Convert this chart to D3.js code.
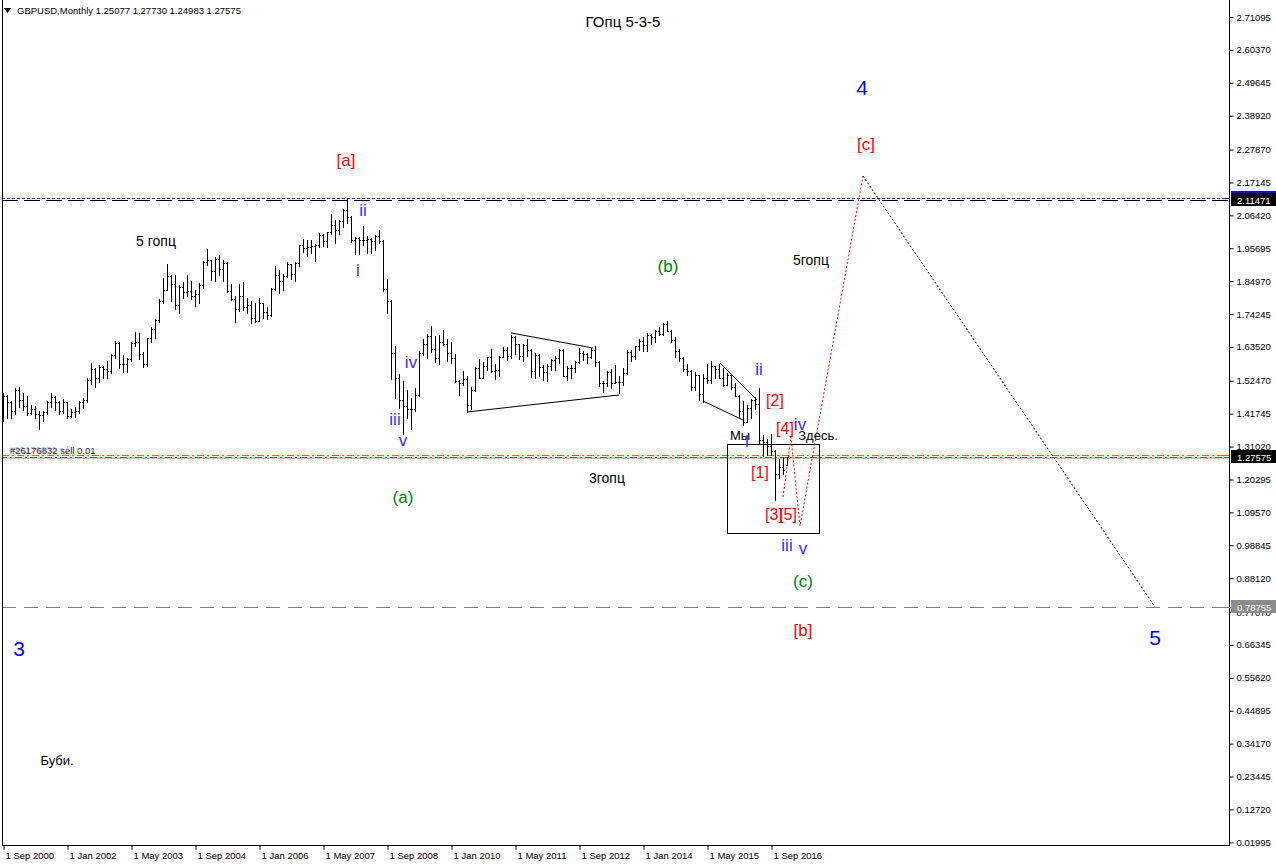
<!DOCTYPE html>
<html><head><meta charset="utf-8">
<script src="https://cdn.jsdelivr.net/npm/d3@7"></script>
<style>
html,body{margin:0;padding:0;background:#fff;}
svg{display:block;}
text{font-family:"Liberation Sans",Arial,sans-serif;}
</style></head><body>
<svg id="c" width="1276" height="866"></svg>
<script>
// ---- DATA ----
const symbolTitle = "GBPUSD,Monthly  1.25077 1.27730 1.24983 1.27575";
const chartTitle = "ГОпц 5-3-5";
// monthly bars, first bar = Sep 2000, last = Jan 2017
const opens = [
 1.445,1.475,1.455,1.425,
 1.494,1.462,1.444,1.420,1.432,1.417,1.412,1.423,1.455,1.471,1.455,1.425,
 1.455,1.410,1.422,1.425,1.457,1.461,1.528,1.563,1.535,1.569,1.563,1.557,
 1.610,1.648,1.579,1.579,1.596,1.649,1.652,1.612,1.580,1.663,1.695,1.722,
 1.785,1.822,1.867,1.840,1.773,1.832,1.813,1.817,1.800,1.809,1.837,1.912,
 1.920,1.883,1.922,1.888,1.908,1.817,1.792,1.760,1.800,1.764,1.772,1.728,
 1.720,1.780,1.748,1.739,1.825,1.871,1.850,1.868,1.904,1.872,1.909,1.966,
 1.958,1.962,1.965,1.967,2.000,1.980,2.009,2.032,2.015,2.045,2.082,2.058,
 1.985,1.989,1.985,1.985,1.987,1.979,1.997,1.981,1.823,1.785,1.617,1.535,
 1.462,1.444,1.432,1.433,1.479,1.615,1.644,1.670,1.628,1.598,1.650,1.646,
 1.615,1.598,1.523,1.518,1.530,1.445,1.495,1.568,1.535,1.572,1.602,1.558,
 1.561,1.602,1.626,1.605,1.669,1.645,1.606,1.642,1.625,1.558,1.609,1.570,
 1.554,1.572,1.593,1.600,1.624,1.541,1.567,1.568,1.587,1.615,1.613,1.602,
 1.625,1.586,1.518,1.519,1.553,1.519,1.521,1.521,1.549,1.619,1.604,1.637,
 1.656,1.643,1.675,1.667,1.688,1.676,1.711,1.688,1.659,1.621,1.600,1.564,
 1.558,1.505,1.543,1.482,1.535,1.528,1.572,1.562,1.535,1.512,1.543,1.506,
 1.474,1.425,1.392,1.437,1.461,1.449,1.331,1.324,1.313,1.297,1.220,1.245,
 1.25077];
const highs = [
 1.485,1.480,1.460,1.500,
 1.505,1.485,1.475,1.446,1.442,1.425,1.427,1.460,1.485,1.475,1.460,1.465,
 1.455,1.433,1.440,1.460,1.470,1.535,1.583,1.565,1.575,1.572,1.590,1.612,
 1.656,1.650,1.610,1.600,1.651,1.685,1.680,1.619,1.665,1.700,1.725,1.790,
 1.860,1.905,1.870,1.870,1.836,1.846,1.869,1.850,1.820,1.843,1.915,1.956,
 1.920,1.930,1.935,1.920,1.913,1.840,1.800,1.840,1.846,1.795,1.785,1.780,
 1.795,1.780,1.765,1.826,1.900,1.885,1.872,1.912,1.905,1.912,1.968,1.986,
 1.985,1.983,1.970,2.007,2.003,2.010,2.067,2.050,2.050,2.085,2.116,2.063,
 1.993,1.995,2.030,1.998,1.990,2.000,2.016,1.985,1.857,1.788,1.638,1.548,
 1.525,1.496,1.470,1.502,1.621,1.660,1.676,1.704,1.670,1.674,1.689,1.660,
 1.650,1.612,1.526,1.557,1.539,1.503,1.570,1.596,1.587,1.602,1.628,1.578,
 1.604,1.634,1.634,1.674,1.670,1.646,1.645,1.660,1.630,1.614,1.612,1.577,
 1.578,1.597,1.605,1.628,1.628,1.573,1.576,1.589,1.631,1.622,1.615,1.631,
 1.638,1.589,1.524,1.558,1.562,1.575,1.539,1.567,1.625,1.626,1.638,1.660,
 1.668,1.680,1.677,1.690,1.700,1.712,1.719,1.690,1.667,1.628,1.602,1.578,
 1.559,1.552,1.543,1.546,1.581,1.590,1.573,1.581,1.566,1.551,1.546,1.516,
 1.477,1.459,1.446,1.466,1.473,1.502,1.348,1.336,1.350,1.298,1.270,1.275,
 1.27730];
const lows = [
 1.395,1.405,1.405,1.418,
 1.440,1.430,1.412,1.415,1.404,1.369,1.395,1.418,1.440,1.430,1.417,1.420,
 1.405,1.406,1.408,1.420,1.435,1.455,1.515,1.505,1.522,1.535,1.534,1.551,
 1.600,1.565,1.553,1.555,1.590,1.637,1.595,1.570,1.573,1.650,1.665,1.717,
 1.780,1.822,1.785,1.760,1.745,1.795,1.802,1.790,1.770,1.780,1.826,1.903,
 1.855,1.850,1.870,1.850,1.815,1.788,1.717,1.752,1.755,1.747,1.712,1.717,
 1.719,1.728,1.725,1.735,1.821,1.810,1.820,1.863,1.857,1.850,1.900,1.946,
 1.932,1.940,1.915,1.962,1.965,1.960,2.005,1.973,2.003,2.025,2.040,1.978,
 1.937,1.937,1.967,1.941,1.940,1.950,1.974,1.818,1.745,1.531,1.470,1.437,
 1.350,1.404,1.366,1.425,1.474,1.609,1.600,1.619,1.587,1.578,1.640,1.588,
 1.584,1.520,1.478,1.512,1.423,1.432,1.492,1.534,1.533,1.560,1.553,1.529,
 1.541,1.601,1.592,1.598,1.613,1.595,1.588,1.605,1.538,1.533,1.542,1.526,
 1.523,1.559,1.560,1.584,1.540,1.527,1.535,1.555,1.584,1.592,1.583,1.600,
 1.574,1.508,1.487,1.507,1.500,1.517,1.485,1.512,1.546,1.588,1.595,1.626,
 1.623,1.623,1.646,1.652,1.673,1.673,1.688,1.651,1.603,1.588,1.558,1.543,
 1.495,1.495,1.461,1.457,1.517,1.516,1.533,1.533,1.508,1.511,1.499,1.474,
 1.405,1.380,1.390,1.403,1.432,1.323,1.279,1.284,1.284,1.135,1.208,1.221,
 1.24983];
const closes = [
 1.475,1.455,1.425,1.494,
 1.462,1.444,1.420,1.432,1.417,1.412,1.423,1.455,1.471,1.455,1.425,1.455,
 1.410,1.422,1.425,1.457,1.461,1.528,1.563,1.535,1.569,1.563,1.557,1.610,
 1.648,1.579,1.579,1.596,1.649,1.652,1.612,1.580,1.663,1.695,1.722,1.785,
 1.822,1.867,1.840,1.773,1.832,1.813,1.817,1.800,1.809,1.837,1.912,1.920,
 1.883,1.922,1.888,1.908,1.817,1.792,1.760,1.800,1.764,1.772,1.728,1.720,
 1.780,1.748,1.739,1.825,1.871,1.850,1.868,1.904,1.872,1.909,1.966,1.958,
 1.962,1.965,1.967,2.000,1.980,2.009,2.032,2.015,2.045,2.082,2.058,1.985,
 1.989,1.985,1.985,1.987,1.979,1.997,1.981,1.823,1.785,1.617,1.535,1.462,
 1.444,1.432,1.433,1.479,1.615,1.644,1.670,1.628,1.598,1.650,1.646,1.615,
 1.598,1.523,1.518,1.530,1.445,1.495,1.568,1.535,1.572,1.602,1.558,1.561,
 1.602,1.626,1.605,1.669,1.645,1.606,1.642,1.625,1.558,1.609,1.570,1.554,
 1.572,1.593,1.600,1.624,1.541,1.567,1.568,1.587,1.615,1.613,1.602,1.625,
 1.586,1.518,1.519,1.553,1.519,1.521,1.521,1.549,1.619,1.604,1.637,1.656,
 1.643,1.675,1.667,1.688,1.676,1.711,1.688,1.659,1.621,1.600,1.564,1.558,
 1.505,1.543,1.482,1.535,1.528,1.572,1.562,1.535,1.512,1.543,1.506,1.474,
 1.425,1.392,1.437,1.461,1.449,1.331,1.324,1.313,1.297,1.220,1.245,1.234,
 1.27575];

// axis ticks
const priceTicks = [2.71095,2.60370,2.49645,2.38920,2.27870,2.17145,2.06420,1.95695,1.84970,1.74245,1.63520,1.52470,1.41745,1.31020,1.20295,1.09570,0.98845,0.88120,0.77070,0.66345,0.55620,0.44895,0.34170,0.23445,0.12720,0.01995];
const dateTickIdx = [0,16,32,48,64,80,96,112,128,144,160,176,192];
const dateTickLabels = ["1 Sep 2000","1 Jan 2002","1 May 2003","1 Sep 2004","1 Jan 2006","1 May 2007","1 Sep 2008","1 Jan 2010","1 May 2011","1 Sep 2012","1 Jan 2014","1 May 2015","1 Sep 2016"];

// horizontal levels
const levelTop = 2.11471;
const levelBid = 1.27575;
const levelLow = 0.78755;

// trend lines (bar index, price)
const triangleUpper = [[127,1.6806],[147.5,1.6317]];
const triangleLower = [[116,1.4230],[154,1.4785]];
const wedgeUpper = [[179.25,1.5828],[188.5,1.4621]];
const wedgeLower = [[175,1.4589],[185,1.3969]];
const boxCorners = [[181,1.3187],[204,1.0285]];
const redPath = [[195,1.1459],[197,1.3415],[199.25,1.0513],[215,2.1925]];
const blackPath = [[215,2.1925],[288,0.78755]];

// wave labels: text, bar index, price, colour, size
const labels = [
 ["[a]",85.75,2.2447,"red",17],
 ["ii",90,2.0817,"roman",17],
 ["i",88.75,1.8860,"roman",17],
 ["iv",102,1.5860,"roman",17],
 ["iii",98,1.4002,"roman",17],
 ["v",100,1.3317,"roman",17],
 ["(a)",100,1.1459,"green",17],
 ["5 гопц",38.25,1.9806,"black",14],
 ["3гопц",151,1.2078,"black",14],
 ["(b)",166.25,1.8991,"green",17],
 ["5гопц",202,1.9186,"black",14],
 ["ii",189,1.5632,"roman",17],
 ["[2]",193,1.4621,"red",16],
 ["[4]",195.5,1.3708,"red",16],
 ["iv",199.25,1.3839,"roman",17],
 ["Мы",184.25,1.3480,"black",13],
 ["Здесь.",203.75,1.3480,"black",13],
 ["I",186,1.3285,"roman",16],
 ["[1]",189.25,1.2274,"red",16],
 ["[3]",192.75,1.0904,"red",16],
 ["[5]",196.25,1.0904,"red",16],
 ["iii",196,0.9893,"roman",17],
 ["v",200,0.9796,"roman",17],
 ["(c)",200,0.8720,"green",17],
 ["[b]",200,0.7122,"red",17],
 ["4",214.75,2.4827,"blue",21],
 ["[c]",215.75,2.2969,"red",17],
 ["3",4,0.6535,"blue",21],
 ["5",288,0.6893,"blue",21],
 ["Буби.",13.5,0.2883,"black",13]
];
const colours = {red:"#ff0000", roman:"#3a2cff", green:"#008000", black:"#000000", blue:"#0000ff"};

// ---- DRAW ----
const svg = d3.select("#c");
const plotL = 2, plotR = 1229, plotB = 845;
const x = d3.scaleLinear().domain([0,100]).range([3,403]);
const y = d3.scaleLinear().domain([0.01995,2.71095]).range([842.3,17]);

const bars = opens.map((o,i)=>({i,o,h:highs[i],l:lows[i],c:closes[i]}));

// horizontal level lines
const lv = svg.append("g");
lv.append("line").attr("x1",plotL).attr("x2",plotR).attr("y1",Math.round(y(levelTop))+0.5).attr("y2",Math.round(y(levelTop))+0.5)
  .attr("stroke","#000").attr("stroke-dasharray","16,6");
lv.append("line").attr("x1",plotL).attr("x2",plotR).attr("y1",Math.round(y(levelTop))-1.5).attr("y2",Math.round(y(levelTop))-1.5)
  .attr("stroke","#0000ff").attr("stroke-dasharray","3,2");
const yb = Math.round(y(levelBid));
lv.append("line").attr("x1",plotL).attr("x2",plotR).attr("y1",yb+1.5).attr("y2",yb+1.5).attr("stroke","#c0c0c0");
lv.append("line").attr("x1",plotL).attr("x2",plotR).attr("y1",yb-1.5).attr("y2",yb-1.5)
  .attr("stroke","#ff5a1e").attr("stroke-dasharray","7,3,2,3");
lv.append("line").attr("x1",plotL).attr("x2",plotR).attr("y1",yb+0.5).attr("y2",yb+0.5)
  .attr("stroke","#1a8a1a").attr("stroke-dasharray","7,3,2,3").attr("stroke-dashoffset",2);
lv.append("line").attr("x1",plotL).attr("x2",plotR).attr("y1",Math.round(y(levelLow))+0.5).attr("y2",Math.round(y(levelLow))+0.5)
  .attr("stroke","#808080").attr("stroke-dasharray","14,8");

// order text (two overlapping order labels, as in the terminal)
svg.append("text").attr("x",10).attr("y",yb-3).attr("font-size",9.5).attr("fill","#222").text("#26176832 sell 0.01");
svg.append("text").attr("x",9).attr("y",yb-4).attr("font-size",9.5).attr("fill","#5577bb").attr("opacity",0.55).text("#26176832 s  l");

// bars
const bg = svg.append("g").attr("fill","#000");
bars.forEach(d=>{
  const X = Math.round(x(d.i));
  const yh = Math.round(y(d.h)), yl = Math.round(y(d.l));
  bg.append("rect").attr("x",X).attr("y",yh).attr("width",1).attr("height",Math.max(1,yl-yh+1));
  bg.append("rect").attr("x",X-1).attr("y",Math.round(y(d.o))).attr("width",1).attr("height",1);
  bg.append("rect").attr("x",X+1).attr("y",Math.round(y(d.c))).attr("width",1).attr("height",1);
});

// trend lines
const line = d3.line().x(d=>x(d[0])).y(d=>y(d[1]));
[triangleUpper,triangleLower,wedgeUpper,wedgeLower].forEach(p=>{
  svg.append("path").attr("d",line(p)).attr("fill","none").attr("stroke","#000").attr("stroke-width",1);
});
svg.append("rect").attr("x",Math.round(x(boxCorners[0][0]))+0.5).attr("y",Math.round(y(boxCorners[0][1]))+0.5)
  .attr("width",Math.round(x(boxCorners[1][0])-x(boxCorners[0][0]))).attr("height",Math.round(y(boxCorners[1][1])-y(boxCorners[0][1])))
  .attr("fill","none").attr("stroke","#000");
svg.append("path").attr("d",line(redPath)).attr("fill","none").attr("stroke","#ff0000").attr("stroke-dasharray","2,2");
svg.append("path").attr("d",line(blackPath)).attr("fill","none").attr("stroke","#000").attr("stroke-dasharray","2,2");

// labels
svg.append("g").selectAll("text").data(labels).join("text")
  .attr("x",d=>x(d[1])).attr("y",d=>y(d[2])).attr("dy","0.36em")
  .attr("text-anchor","middle").attr("font-size",d=>d[4]).attr("fill",d=>colours[d[3]]).text(d=>d[0]);

// title & header
svg.append("text").attr("x",623).attr("y",27).attr("text-anchor","middle").attr("font-size",15).attr("fill","#000").text(chartTitle);
svg.append("path").attr("d","M4,8 L11,8 L7.5,13 Z").attr("fill","#000");
svg.append("text").attr("x",17).attr("y",14).attr("font-size",9.5).attr("fill","#000").text(symbolTitle);

// axes
const ra = svg.append("g").attr("transform",`translate(${plotR+0.5},0)`)
  .call(d3.axisRight(y).tickValues(priceTicks).tickSize(4).tickSizeOuter(0).tickFormat(d3.format(".5f")));
ra.select(".domain").remove();
ra.selectAll("text").attr("font-family","Liberation Sans, Arial, sans-serif").attr("font-size",9.5).attr("fill","#000").attr("x",7);
ra.selectAll("line").attr("stroke","#000");

const ba = svg.append("g").attr("transform",`translate(0,${plotB+0.5})`)
  .call(d3.axisBottom(x).tickValues(dateTickIdx).tickSize(4).tickSizeOuter(0).tickFormat((d,i)=>dateTickLabels[i]));
ba.select(".domain").remove();
ba.selectAll("line").attr("transform","translate(0.5,0)").attr("stroke","#000");
ba.selectAll("text").attr("text-anchor","start").attr("x",2).attr("font-family","Liberation Sans, Arial, sans-serif").attr("font-size",9.5).attr("fill","#000");

// frame
svg.append("line").attr("x1",plotL+0.5).attr("x2",plotL+0.5).attr("y1",0).attr("y2",plotB+0.5).attr("stroke","#000");
svg.append("line").attr("x1",plotR+0.5).attr("x2",plotR+0.5).attr("y1",0).attr("y2",plotB+0.5).attr("stroke","#000");
svg.append("line").attr("x1",plotL).attr("x2",plotR+1).attr("y1",plotB+0.5).attr("y2",plotB+0.5).attr("stroke","#000");

// price label boxes on the right axis
function priceBox(v,bgc,fg){
  const yy = Math.round(y(v));
  svg.append("rect").attr("x",plotR+2).attr("y",yy-7).attr("width",46).attr("height",13).attr("fill",bgc);
  svg.append("text").attr("x",plotR+8).attr("y",yy+3.5).attr("font-size",9.5).attr("fill",fg).text(d3.format(".5f")(v));
}
priceBox(levelTop,"#000","#fff");
svg.append("rect").attr("x",plotR+2).attr("y",Math.round(y(levelTop))-9).attr("width",46).attr("height",2).attr("fill","#0000ff");
svg.append("line").attr("x1",plotR-4).attr("x2",plotR).attr("y1",Math.round(y(levelTop))-1.5).attr("y2",Math.round(y(levelTop))-1.5).attr("stroke","#0000ff");
priceBox(levelBid,"#000","#fff");
svg.append("line").attr("x1",plotR-5).attr("x2",plotR).attr("y1",yb-1.5).attr("y2",yb-1.5).attr("stroke","#ff5a1e");
svg.append("line").attr("x1",plotR-5).attr("x2",plotR).attr("y1",yb+0.5).attr("y2",yb+0.5).attr("stroke","#1a8a1a");
priceBox(levelLow,"#8c8c8c","#fff");
svg.append("line").attr("x1",plotR-4).attr("x2",plotR+2).attr("y1",Math.round(y(levelLow))+0.5).attr("y2",Math.round(y(levelLow))+0.5).attr("stroke","#808080");
</script>
</body></html>
